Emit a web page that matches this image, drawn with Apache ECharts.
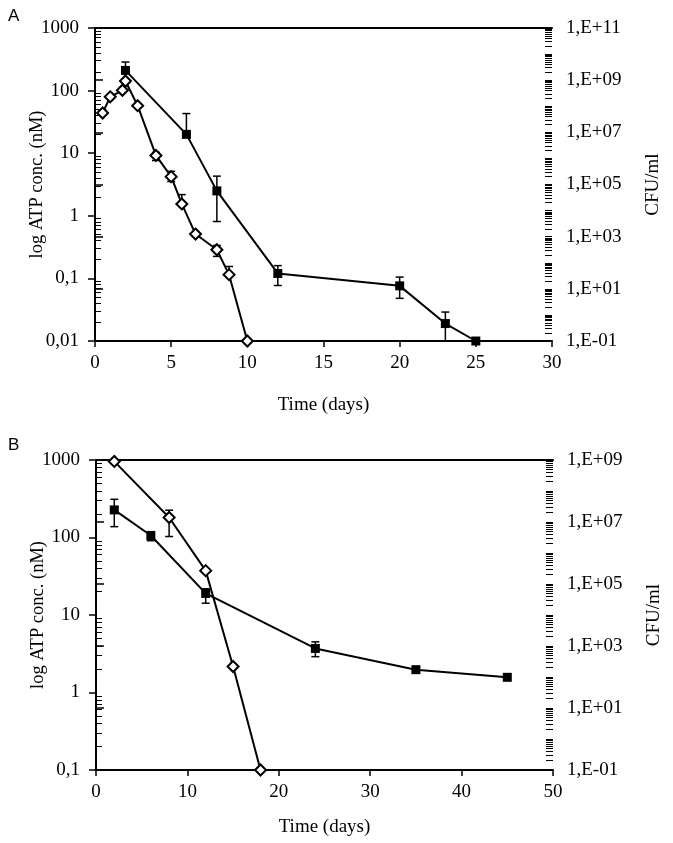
<!DOCTYPE html>
<html>
<head>
<meta charset="utf-8">
<script src="https://cdn.jsdelivr.net/npm/echarts@6/dist/echarts.min.js"></script>
<style>
  html, body { margin: 0; padding: 0; background: #fff; }
  #chart { width: 673px; height: 843px; }
</style>
</head>
<body>
<div id="chart"></div>
<script>
// Panel A - ATP (filled squares, left axis, nM)
const daysAtpA = [2, 6, 8, 12, 20, 23, 25];
const atpA = [210, 20, 2.5, 0.12, 0.076, 0.019, 0.01];
const atpAHi = [286, 43, 4.3, 0.16, 0.105, 0.029, 0.01];
const atpALo = [210, 20, 0.81, 0.077, 0.048, 0.01, 0.01];

// Panel A - CFU (open diamonds, right axis)
const daysCfuA = [0.5, 1, 1.8, 2, 2.8, 4, 5, 5.7, 6.6, 8, 8.8, 10];
const cfuA = [5.5e7, 2.3e8, 4.1e8, 9.3e8, 1.05e8, 1.3e6, 2.0e5, 1.8e4, 1260, 316, 35, 0.1];
const cfuAHi = [7e7, 2.3e8, 4.1e8, 9.3e8, 1.05e8, 1.7e6, 3.2e5, 4.1e4, 1260, 460, 72, 0.1];
const cfuALo = [4.5e7, 2.3e8, 4.1e8, 9.3e8, 1.05e8, 8.3e5, 1.3e5, 1.8e4, 1260, 175, 35, 0.1];

// Panel B - ATP
const daysAtpB = [2, 6, 12, 24, 35, 45];
const atpB = [227, 106, 19, 3.7, 1.97, 1.57];
const atpBHi = [311, 119, 21.8, 4.5, 1.97, 1.57];
const atpBLo = [138, 91, 14.2, 2.9, 1.97, 1.57];

// Panel B - CFU
const daysCfuB = [2, 8, 12, 15, 18];
const cfuB = [9e8, 1.4e7, 2.7e5, 218, 0.1];
const cfuBHi = [9e8, 2.4e7, 2.7e5, 218, 0.1];
const cfuBLo = [9e8, 3.4e6, 2.7e5, 218, 0.1];

const serif = 'Liberation Serif';

// log minor tick positions as exponents (log10 of 2..9 x 10^n)
function minorTicks(minExp, maxExp, withDecades) {
  const out = [];
  for (let e = minExp; e < maxExp; e++) {
    for (let k = 2; k <= 9; k++) out.push(e + Math.log10(k));
    if (withDecades && e > minExp) out.push(e);
  }
  return out;
}

const fmtLeft = v => String(+v.toPrecision(6)).replace('.', ',');
const fmtRight = v => {
  const e = Math.round(Math.log10(v));
  return '1,E' + (e < 0 ? '-' : '+') + String(Math.abs(e)).padStart(2, '0');
};

function zip(xs, ys) { return xs.map((x, i) => [x, ys[i]]); }
function zip3(xs, lo, hi) { return xs.map((x, i) => [x, lo[i], hi[i]]); }

function errorBars(params, api) {
  const x = api.value(0), lo = api.value(1), hi = api.value(2);
  if (lo === hi) return null;
  const top = api.coord([x, hi]);
  const bot = api.coord([x, lo]);
  const w = 4;
  const st = { stroke: '#000', lineWidth: 1.5 };
  return {
    type: 'group',
    children: [
      { type: 'line', shape: { x1: top[0], y1: top[1], x2: bot[0], y2: bot[1] }, style: st },
      { type: 'line', shape: { x1: top[0] - w, y1: top[1], x2: top[0] + w, y2: top[1] }, style: st },
      { type: 'line', shape: { x1: bot[0] - w, y1: bot[1], x2: bot[0] + w, y2: bot[1] }, style: st }
    ]
  };
}

const lineStyle = { color: '#000', width: 2 };

function xAxes(grid, max, interval, nameGap) {
  return [
    {
      gridIndex: grid, type: 'value', min: 0, max: max, interval: interval,
      name: 'Time (days)', nameLocation: 'middle', nameGap: nameGap,
      nameTextStyle: { fontFamily: serif, fontSize: 19, color: '#000' },
      axisLine: { onZero: false, lineStyle: lineStyle },
      axisTick: { length: 6, lineStyle: { color: '#000', width: 1.5 } },
      axisLabel: { fontFamily: serif, fontSize: 19, color: '#000', margin: 13 },
      splitLine: { show: false }
    },
    {
      gridIndex: grid, type: 'value', position: 'top', min: 0, max: max,
      axisLine: { onZero: false, lineStyle: lineStyle }, axisTick: { show: false },
      axisLabel: { show: false }, splitLine: { show: false }
    }
  ];
}

function yAxes(grid, leftMin, rightMin, rightMax) {
  const lminE = Math.round(Math.log10(leftMin));
  const rminE = Math.round(Math.log10(rightMin));
  const rmaxE = Math.round(Math.log10(rightMax));
  return [
    {
      gridIndex: grid, type: 'log', position: 'left', min: leftMin, max: 1000, interval: 1,
      name: 'log ATP conc. (nM)', nameLocation: 'middle', nameGap: 48, nameMoveOverlap: false,
      nameTextStyle: { fontFamily: serif, fontSize: 18.5, color: '#000' },
      axisLine: { show: true, lineStyle: lineStyle },
      axisTick: { length: 7, lineStyle: { color: '#000', width: 1.5 } },
      axisLabel: { fontFamily: serif, fontSize: 19, color: '#000', margin: 16, formatter: fmtLeft },
      splitLine: { show: false }
    },
    {
      gridIndex: grid, type: 'log', position: 'right', min: rightMin, max: rightMax, interval: 2,
      name: 'CFU/ml', nameLocation: 'middle', nameGap: 92, nameRotate: 90, nameMoveOverlap: false,
      nameTextStyle: { fontFamily: serif, fontSize: 19, color: '#000' },
      axisLine: { show: true, lineStyle: lineStyle },
      axisTick: { length: 8, lineStyle: { color: '#000', width: 1.5 } },
      axisLabel: { fontFamily: serif, fontSize: 19, color: '#000', margin: 14, formatter: fmtRight },
      splitLine: { show: false }
    },
    {
      gridIndex: grid, type: 'value', position: 'left', min: lminE, max: 3,
      axisLine: { show: false }, axisLabel: { show: false }, splitLine: { show: false },
      axisTick: { show: true, inside: true, length: 6, customValues: minorTicks(lminE, 3, false),
        lineStyle: { color: '#000', width: 1 } }
    },
    {
      gridIndex: grid, type: 'value', position: 'right', min: rminE, max: rmaxE,
      axisLine: { show: false }, axisLabel: { show: false }, splitLine: { show: false },
      axisTick: { show: true, inside: true, length: 7, customValues: minorTicks(rminE, rmaxE, true),
        lineStyle: { color: '#000', width: 1 } }
    }
  ];
}

function panelSeries(xi, yi, daysAtp, atp, atpLo, atpHi, daysCfu, cfu, cfuLo, cfuHi) {
  return [
    {
      type: 'custom', xAxisIndex: xi, yAxisIndex: yi, renderItem: errorBars,
      encode: { x: 0, y: [1, 2] }, data: zip3(daysAtp, atpLo, atpHi), z: 1, silent: true
    },
    {
      type: 'custom', xAxisIndex: xi, yAxisIndex: yi + 1, renderItem: errorBars,
      encode: { x: 0, y: [1, 2] }, data: zip3(daysCfu, cfuLo, cfuHi), z: 1, silent: true
    },
    {
      type: 'line', xAxisIndex: xi, yAxisIndex: yi, data: zip(daysAtp, atp),
      symbol: 'rect', symbolSize: 9, showAllSymbol: true, z: 3,
      lineStyle: { color: '#000', width: 2 }, itemStyle: { color: '#000' }
    },
    {
      type: 'line', xAxisIndex: xi, yAxisIndex: yi + 1, data: zip(daysCfu, cfu),
      symbol: 'diamond', symbolSize: 11, showAllSymbol: true, z: 4,
      lineStyle: { color: '#000', width: 2 },
      itemStyle: { color: '#fff', borderColor: '#000', borderWidth: 2 }
    }
  ];
}

const chart = echarts.init(document.getElementById('chart'), null, { renderer: 'canvas' });

chart.setOption({
  animation: false,
  backgroundColor: '#fff',
  graphic: [
    { type: 'text', left: 8, top: 8, style: { text: 'A', font: '17px "Liberation Sans"', fill: '#000' } },
    { type: 'text', left: 8, top: 437, style: { text: 'B', font: '17px "Liberation Sans"', fill: '#000' } }
  ],
  grid: [
    { left: 95, top: 28, width: 457, height: 313 },
    { left: 96, top: 460, width: 457, height: 310 }
  ],
  xAxis: [].concat(xAxes(0, 30, 5, 55), xAxes(1, 50, 10, 48)),
  yAxis: [].concat(yAxes(0, 0.01, 0.1, 1e11), yAxes(1, 0.1, 0.1, 1e9)),
  series: [].concat(
    panelSeries(0, 0, daysAtpA, atpA, atpALo, atpAHi, daysCfuA, cfuA, cfuALo, cfuAHi),
    panelSeries(2, 4, daysAtpB, atpB, atpBLo, atpBHi, daysCfuB, cfuB, cfuBLo, cfuBHi)
  )
});
</script>
</body>
</html>
